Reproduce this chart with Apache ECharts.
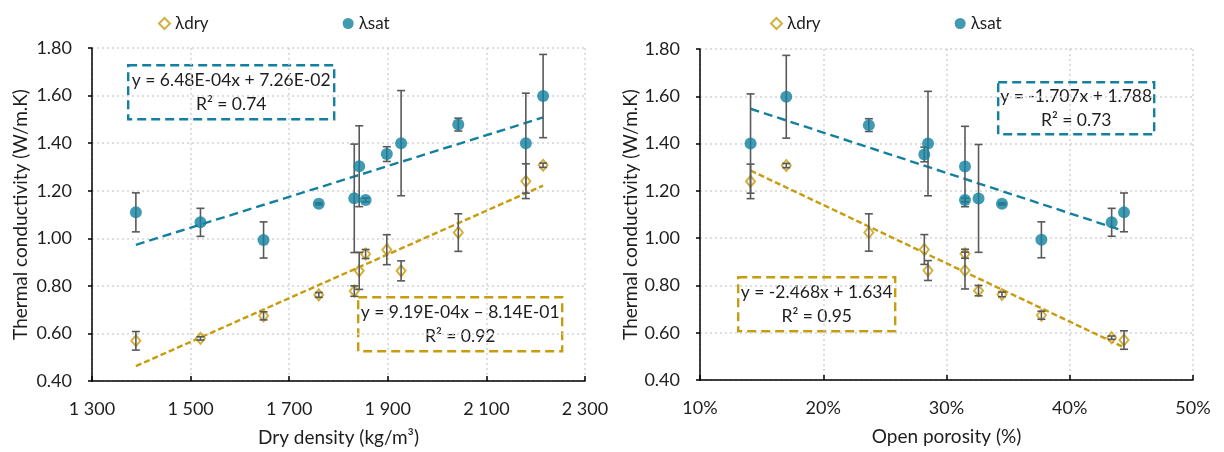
<!DOCTYPE html>
<html>
<head>
<meta charset="utf-8">
<script src="https://cdn.jsdelivr.net/npm/echarts@6/dist/echarts.min.js"></script>
<style>
html,body{margin:0;padding:0;background:#fff;}
#chart{width:1224px;height:452px;}
</style>
</head>
<body>
<div id="chart"></div>
<script>
// ---- data ----
const density   = [1389, 1520, 1648, 1760, 1832, 1842, 1855, 1898, 1927, 2043, 2180, 2215];
const porosity  = [44.4, 43.4, 37.7, 34.5, 32.6, 31.5, 31.5, 28.2, 28.5, 23.7, 14.1, 17.0];
const lamDry    = [0.569, 0.579, 0.674, 0.762, 0.778, 0.863, 0.934, 0.952, 0.863, 1.024, 1.240, 1.307];
const lamDryErr = [0.039, 0.007, 0.017, 0.010, 0.022, 0.078, 0.019, 0.063, 0.042, 0.079, 0.073, 0.009];
const lamSat    = [1.109, 1.067, 0.993, 1.145, 1.168, 1.303, 1.161, 1.354, 1.400, 1.478, 1.400, 1.598];
const lamSatErr = [0.082, 0.059, 0.076, 0.004, 0.228, 0.170, 0.008, 0.031, 0.221, 0.027, 0.210, 0.175];
// trend line coefficients [slope, intercept]
const fitDensDry = [9.19e-4, -8.14e-1];
const fitDensSat = [6.48e-4, 7.26e-2];
const fitPorDry  = [-2.468, 1.634];   // x as fraction
const fitPorSat  = [-1.707, 1.788];
const eqDensSat = ['y = 6.48E-04x + 7.26E-02', 'R² = 0.74'];
const eqDensDry = ['y = 9.19E-04x – 8.14E-01', 'R² = 0.92'];
const eqPorSat  = ['y = -1.707x + 1.788', 'R² = 0.73'];
const eqPorDry  = ['y = -2.468x + 1.634', 'R² = 0.95'];
const yTicks = [0.4, 1.8, 0.2];
const densTicks = [1300, 2300, 200];
const porTicks = [10, 50, 10];

// ---- styling ----
const FONT = 'Lato, "Open Sans", sans-serif';
const SAT = '#13809F';
const DRY = '#C79C0E';
const ERR = '#595959';
const TXT = '#1e1e1e';

const chart = echarts.init(document.getElementById('chart'), null, {renderer: 'canvas'});

function pts(xs, ys) { return xs.map((x, i) => [x, ys[i]]); }
function errData(xs, ys, es) { return xs.map((x, i) => [x, ys[i] - es[i], ys[i] + es[i]]); }
function fitLine(xs, coef, scale) {
  const lo = Math.min(...xs), hi = Math.max(...xs);
  return [lo, hi].map(x => [x, coef[0] * x / scale + coef[1]]);
}
function errSeries(xi, yi, data, z) {
  return {
    type: 'custom', xAxisIndex: xi, yAxisIndex: yi, z: z, silent: true,
    data: data,
    renderItem: function (params, api) {
      const x = api.value(0);
      const p1 = api.coord([x, api.value(1)]);
      const p2 = api.coord([x, api.value(2)]);
      const hw = 4;
      const st = {stroke: ERR, lineWidth: 1.6};
      return {type: 'group', children: [
        {type: 'line', shape: {x1: p1[0], y1: p1[1], x2: p2[0], y2: p2[1]}, style: st},
        {type: 'line', shape: {x1: p1[0] - hw, y1: p1[1], x2: p1[0] + hw, y2: p1[1]}, style: st},
        {type: 'line', shape: {x1: p2[0] - hw, y1: p2[1], x2: p2[0] + hw, y2: p2[1]}, style: st}
      ]};
    }
  };
}
function trend(xi, yi, data, color, dash) {
  return {type: 'line', xAxisIndex: xi, yAxisIndex: yi, data: data, symbol: 'none', silent: true, z: 3,
    lineStyle: {color: color, width: 2.4, type: dash}};
}
function scatterDry(xi, yi, data) {
  return {name: 'λdry', type: 'scatter', xAxisIndex: xi, yAxisIndex: yi, data: data, z: 4,
    symbol: 'emptyDiamond', symbolSize: [9, 11],
    itemStyle: {color: DRY, borderWidth: 1.6}};
}
function scatterSat(xi, yi, data) {
  return {name: 'λsat', type: 'scatter', xAxisIndex: xi, yAxisIndex: yi, data: data, z: 6,
    symbol: 'circle', symbolSize: 12, itemStyle: {color: SAT}};
}
const splitLine = {show: true, lineStyle: {color: '#d4d4d4', type: [2, 3], width: 1.5}};
const labelStyle = {color: TXT, fontFamily: FONT, fontSize: 18};
const nameStyle = {color: TXT, fontFamily: FONT, fontSize: 19};
function yAxis(gi, gap) {
  return {type: 'value', gridIndex: gi, min: yTicks[0], max: yTicks[1], interval: yTicks[2],
    name: 'Thermal conductivity (W/m.K)', nameLocation: 'middle', nameGap: gap,
    nameTextStyle: nameStyle,
    axisLine: {show: true, lineStyle: {color: '#000', width: 1.5}},
    axisTick: {show: true, inside: false, length: 4, lineStyle: {color: '#000', width: 1.5}},
    axisLabel: Object.assign({margin: 20, formatter: v => v.toFixed(2)}, labelStyle),
    splitLine: splitLine};
}
function xAxis(gi, ticks, name, fmt) {
  return {type: 'value', gridIndex: gi, min: ticks[0], max: ticks[1], interval: ticks[2],
    name: name, nameLocation: 'middle', nameGap: 47,
    nameTextStyle: nameStyle,
    axisLine: {show: true, onZero: false, lineStyle: {color: '#000', width: 1.5}},
    axisTick: {show: true, inside: true, length: 5, lineStyle: {color: '#000', width: 1.5}},
    axisLabel: Object.assign({margin: 19, formatter: fmt}, labelStyle),
    splitLine: splitLine};
}
function eqBox(x, y, w, h, color, lines) {
  return {type: 'group', left: x, top: y, children: [
    {type: 'rect', shape: {x: 0, y: 0, width: w, height: h},
      style: {fill: '#fff', stroke: color, lineWidth: 2.4, lineDash: [9, 5]}},
    {type: 'text', x: w / 2, y: h / 2 - 12,
      style: {text: lines[0], fill: TXT, font: '17.5px ' + FONT, textAlign: 'center', textVerticalAlign: 'middle'}},
    {type: 'text', x: w / 2, y: h / 2 + 12,
      style: {text: lines[1], fill: TXT, font: '17.5px ' + FONT, textAlign: 'center', textVerticalAlign: 'middle'}}
  ]};
}
function legend(left) {
  return {left: left, top: 10, itemGap: 134, itemWidth: 11, itemHeight: 11,
    textStyle: {color: TXT, fontFamily: FONT, fontSize: 17},
    data: [{name: 'λdry', icon: 'emptyDiamond', itemStyle: {color: DRY, borderColor: DRY, borderWidth: 1.6}},
           {name: 'λsat', icon: 'circle', itemStyle: {color: SAT}}]};
}

const densFmt = v => Math.floor(v / 1000) + ' ' + String(v % 1000).padStart(3, '0');
const porFmt = v => v + '%';

const option = {
  animation: false,
  backgroundColor: '#fff',
  legend: [legend(153), legend(765)],
  grid: [
    {left: 92, right: 639, top: 48, bottom: 71},
    {left: 700, right: 31, top: 49, bottom: 72}
  ],
  xAxis: [
    xAxis(0, densTicks, 'Dry density (kg/m³)', densFmt),
    xAxis(1, porTicks, 'Open porosity (%)', porFmt)
  ],
  yAxis: [yAxis(0, 62), yAxis(1, 58)],
  series: [
    trend(0, 0, fitLine(density, fitDensSat, 1), SAT, [9, 5]),
    trend(0, 0, fitLine(density, fitDensDry, 1), DRY, [6, 3]),
    scatterDry(0, 0, pts(density, lamDry)),
    errSeries(0, 0, errData(density, lamDry, lamDryErr), 5),
    errSeries(0, 0, errData(density, lamSat, lamSatErr), 5),
    scatterSat(0, 0, pts(density, lamSat)),

    trend(1, 1, fitLine(porosity, fitPorSat, 100), SAT, [9, 5]),
    trend(1, 1, fitLine(porosity, fitPorDry, 100), DRY, [6, 3]),
    scatterDry(1, 1, pts(porosity, lamDry)),
    errSeries(1, 1, errData(porosity, lamDry, lamDryErr), 5),
    errSeries(1, 1, errData(porosity, lamSat, lamSatErr), 5),
    scatterSat(1, 1, pts(porosity, lamSat))
  ],
  graphic: [
    eqBox(127, 64, 206, 54, SAT, eqDensSat),
    eqBox(357, 296, 204, 54, DRY, eqDensDry),
    eqBox(997, 81, 156, 52, SAT, eqPorSat),
    eqBox(737, 276, 157, 54, DRY, eqPorDry)
  ]
};
chart.setOption(option);
</script>
</body>
</html>
